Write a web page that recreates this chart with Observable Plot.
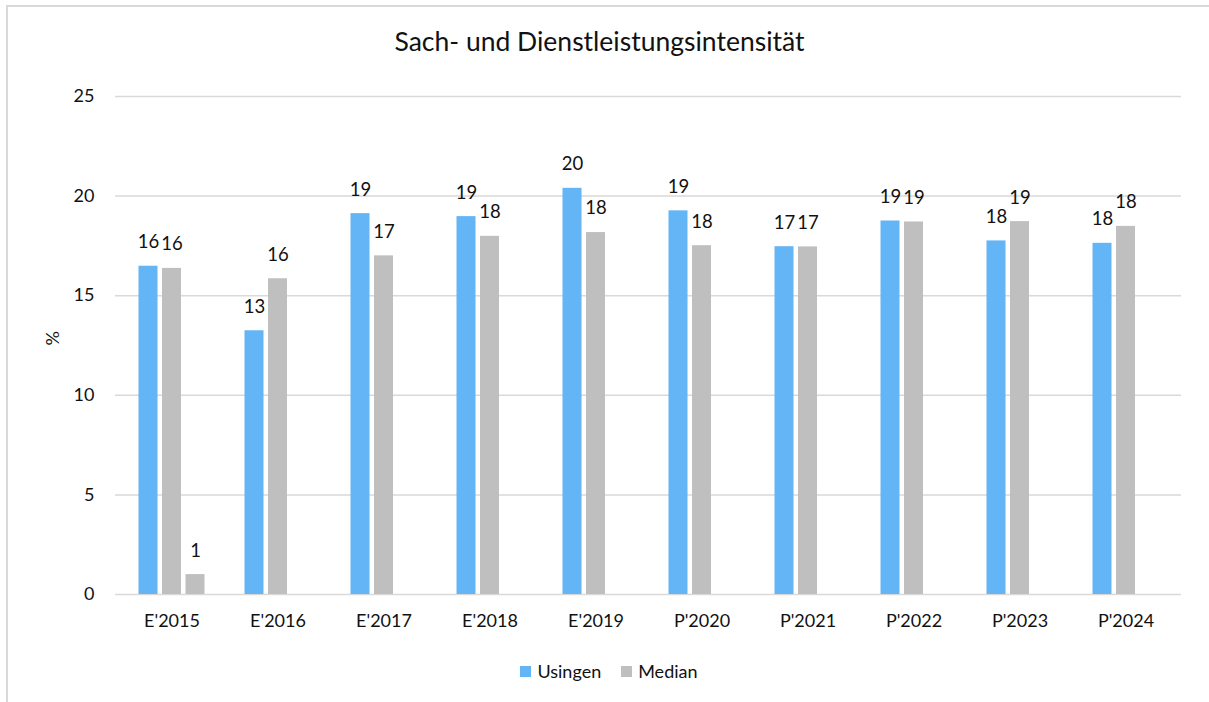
<!DOCTYPE html>
<html>
<head>
<meta charset="utf-8">
<script src="https://cdn.jsdelivr.net/npm/d3@7"></script>
<script src="https://cdn.jsdelivr.net/npm/@observablehq/plot@0.6"></script>
<style>
  html, body { margin: 0; padding: 0; background: #fff; overflow: hidden; width: 1209px; height: 702px; }
  #wrap { position: relative; width: 1209px; height: 702px; overflow: hidden; font-family: Lato, "Open Sans", sans-serif; color: #111; }
  #hline { position: absolute; left: 6px; top: 5px; width: 1203px; height: 2px; background: #D9D9D9; }
  #vline { position: absolute; left: 6px; top: 5px; width: 2px; height: 697px; background: #D9D9D9; }
  #title { position: absolute; left: 0; width: 1209px; top: 25px; text-align: center; font-size: 26.5px; padding-right: 10px; box-sizing: border-box; }
  #chart { position: absolute; left: 0; top: 0; width: 1209px; height: 650px; overflow: hidden; }
  #legend { position: absolute; top: 660px; left: 0; width: 1218px; display: flex; justify-content: center; gap: 20px; font-size: 18px; }
  .item { display: flex; align-items: center; gap: 6px; }
  .sw { width: 11px; height: 11px; display: inline-block; }
</style>
</head>
<body>
<div id="wrap">
  <div id="hline"></div>
  <div id="vline"></div>
  <div id="chart"></div>
  <div id="title">Sach- und Dienstleistungsintensität</div>
  <div id="legend"></div>
</div>
<script>
const categories = ["E'2015", "E'2016", "E'2017", "E'2018", "E'2019", "P'2020", "P'2021", "P'2022", "P'2023", "P'2024"];
const usingen = [16.48, 13.24, 19.12, 18.97, 20.39, 19.26, 17.46, 18.75, 17.75, 17.63];
const median  = [16.37, 15.85, 17.0, 17.98, 18.17, 17.51, 17.45, 18.70, 18.72, 18.48];
const weitere = [1.0, null, null, null, null, null, null, null, null, null];
const yTicks = [0, 5, 10, 15, 20, 25];
const seriesNames = ["Usingen", "Median", "Weitere"];
const seriesColors = ["#64B5F6", "#BFBFBF", "#BFBFBF"];
const legendSeries = ["Usingen", "Median"];

const seriesValues = [usingen, median, weitere];
const tables = seriesValues.map((vals, s) =>
  categories.map((c, i) => ({cat: c, series: seriesNames[s], value: vals[i]})).filter(d => d.value != null)
);
const slot = 23.5;
const offsets = [-slot, 0, slot];

const marks = [
  Plot.gridY(yTicks, {stroke: "#D9D9D9", strokeOpacity: 1, strokeWidth: 1.5}),
  Plot.axisY(yTicks, {tickSize: 0, tickPadding: 21, label: null, fontSize: 18, fill: "#111"}),
  Plot.axisX({tickSize: 0, tickPadding: 20, label: null, fontSize: 18, fill: "#111"}),
  Plot.text(["%"], {frameAnchor: "left", dx: -62, rotate: -90, fontSize: 18, fill: "#111"})
];
tables.forEach((t, s) => {
  marks.push(Plot.barY(t, {x: "cat", y: "value", fill: seriesColors[s], dx: offsets[s]}));
  marks.push(Plot.text(t, {x: "cat", y: "value", text: d => String(Math.round(d.value)), dx: offsets[s], dy: -24, fontSize: 18.5, fill: "#111"}));
});

const chart = Plot.plot({
  width: 1209,
  height: 650,
  marginLeft: 115,
  marginRight: 28,
  marginTop: 96,
  marginBottom: 56,
  style: {fontFamily: "Lato, 'Open Sans', sans-serif", fontSize: "18px", background: "transparent", color: "#111"},
  x: {type: "band", domain: categories, paddingInner: 0.822, paddingOuter: 0.411},
  y: {domain: [0, 25]},
  marks
});
document.getElementById("chart").appendChild(chart);

const legend = document.getElementById("legend");
legendSeries.forEach(name => {
  const item = document.createElement("div");
  item.className = "item";
  const sw = document.createElement("span");
  sw.className = "sw";
  sw.style.background = seriesColors[seriesNames.indexOf(name)];
  const lbl = document.createElement("span");
  lbl.textContent = name;
  item.appendChild(sw);
  item.appendChild(lbl);
  legend.appendChild(item);
});
</script>
</body>
</html>
